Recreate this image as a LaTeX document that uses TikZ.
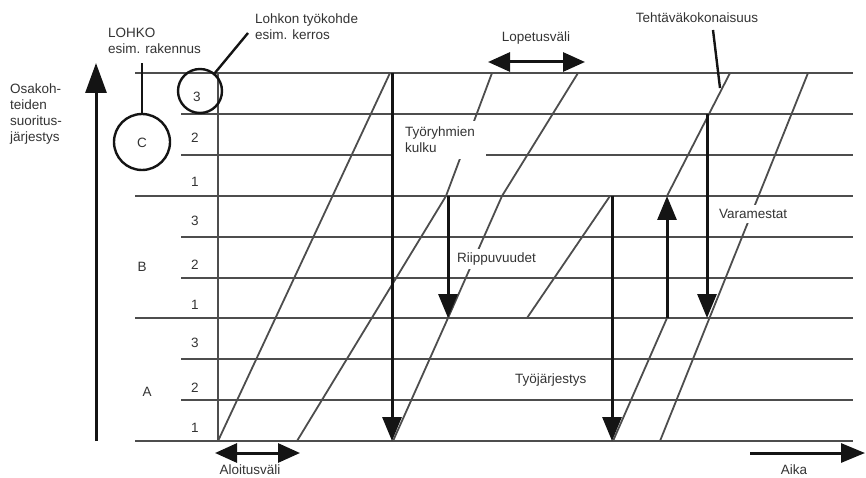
\documentclass[tikz,border=0pt]{standalone}
\usepackage{fontspec}
\setmainfont{Liberation Sans}
\usetikzlibrary{arrows.meta}
\definecolor{gridgray}{HTML}{4D4D4D}
\definecolor{inkblack}{HTML}{141414}
\definecolor{txtgray}{HTML}{333333}
\begin{document}
\begin{tikzpicture}[x=1pt,y=-1pt,
  gridline/.style={draw=gridgray, line width=1.8pt},
  flowline/.style={draw=gridgray, line width=1.8pt},
  bigarrow/.style={draw=inkblack, line width=3pt, -{Triangle[length=24pt,width=19pt]}},
  axisarrow/.style={draw=inkblack, line width=3pt, -{Triangle[length=30pt,width=21pt]}},
  dblarrow/.style={draw=inkblack, line width=3pt, {Triangle[length=22pt,width=19pt]}-{Triangle[length=22pt,width=19pt]}},
  leader/.style={draw=inkblack, line width=2.4pt},
  ring/.style={draw=inkblack, line width=2.4pt, circle, inner sep=0pt},
  lbl/.style={font=\fontsize{13.5}{16}\selectfont, text=txtgray, inner sep=0pt, align=left},
  masked/.style={fill=white},
]
\useasboundingbox (0,0) rectangle (866,478);

% horizontal grid
\foreach \y in {441,318,196,73} \draw[gridline] (135,\y) -- (853,\y);
\foreach \y in {400,359,278,237,155,114} \draw[gridline] (181,\y) -- (853,\y);
\draw[gridline] (218,73) -- (218,441);

% flow lines
\draw[flowline] (218,441) -- (390,73);
\draw[flowline] (297,441) -- (446,196) -- (492,73);
\draw[flowline] (393,441) -- (448,318) -- (502,196) -- (578,73);
\draw[flowline] (527,318) -- (610,196);
\draw[flowline] (613,441) -- (667,318);
\draw[flowline] (667,196) -- (730,73);
\draw[flowline] (660,441) -- (808,73);

% labels with white background
\node[lbl, masked, inner xsep=11pt, inner ysep=6pt, anchor=west] (kulku) at (394,140) {Työryhmien\\kulku};
\node[lbl, masked, inner sep=4pt, anchor=west] (riipp) at (453,259) {Riippuvuudet};
\node[lbl, masked, inner sep=4pt, anchor=west] (vara) at (715,214) {Varamestat};
\node[lbl, anchor=west] (tyoj) at (515,380) {Työjärjestys};

% arrows
\coordinate (a1s) at (392,73);  \coordinate (a1e) at (392,441);
\coordinate (a2s) at (448,196); \coordinate (a2e) at (448,318);
\coordinate (a3s) at (612,196); \coordinate (a3e) at (612,441);
\coordinate (a4s) at (667,318); \coordinate (a4e) at (667,196);
\coordinate (a5s) at (707,114); \coordinate (a5e) at (707,318);
\draw[bigarrow] (a1s) -- (a1e);
\draw[bigarrow] (a2s) -- (a2e);
\draw[bigarrow] (a3s) -- (a3e);
\draw[bigarrow] (a4s) -- (a4e);
\draw[bigarrow] (a5s) -- (a5e);

\coordinate (ax0) at (96,441); \coordinate (ax1) at (96,63);
\draw[axisarrow] (ax0) -- (ax1);
\coordinate (al0) at (215,453); \coordinate (al1) at (300,453);
\draw[dblarrow] (al0) -- (al1);
\coordinate (lo0) at (488,62); \coordinate (lo1) at (585,62);
\draw[dblarrow] (lo0) -- (lo1);
\coordinate (ai0) at (750,453); \coordinate (ai1) at (865,453);
\draw[bigarrow] (ai0) -- (ai1);

% circles and leaders
\node[ring, minimum size=44pt] (work) at (200,91) {};
\node[ring, minimum size=56pt] (lohko) at (142,142) {};
\coordinate (lohkotop) at (142,63);
\draw[leader] (lohko.north) -- (lohkotop);
\coordinate (worklead) at (248,33);
\draw[leader] (worklead) -- (work);
\coordinate (tk0) at (713,30); \coordinate (tk1) at (720,88);
\draw[leader] (tk0) -- (tk1);

% texts
\node[lbl, anchor=west] (osak) at (10,114) {Osakoh-\\teiden\\suoritus-\\järjestys};
\node[lbl, anchor=west] (lohkolbl) at (108,41) {LOHKO\\esim. rakennus};
\node[lbl, anchor=west] (worklbl) at (255,27) {Lohkon työkohde\\esim. kerros};
\node[lbl] (lopet) at (536,38) {Lopetusväli};
\node[lbl] (tehtava) at (697,18) {Tehtäväkokonaisuus};
\node[lbl] (aloit) at (250,470) {Aloitusväli};
\node[lbl] (aika) at (794,470) {Aika};

\node[lbl] (cC) at (142,143) {C};
\node[lbl] (cB) at (142,267) {B};
\node[lbl] (cA) at (147,392) {A};

\node[lbl] (c3) at (197,97) {3};
\node[lbl] (c2) at (195,138) {2};
\node[lbl] (c1) at (195,182) {1};
\node[lbl] (b3) at (195,221) {3};
\node[lbl] (b2) at (195,265) {2};
\node[lbl] (b1) at (195,305) {1};
\node[lbl] (a3) at (195,343) {3};
\node[lbl] (a2) at (195,388) {2};
\node[lbl] (a1) at (195,428) {1};
\end{tikzpicture}
\end{document}
